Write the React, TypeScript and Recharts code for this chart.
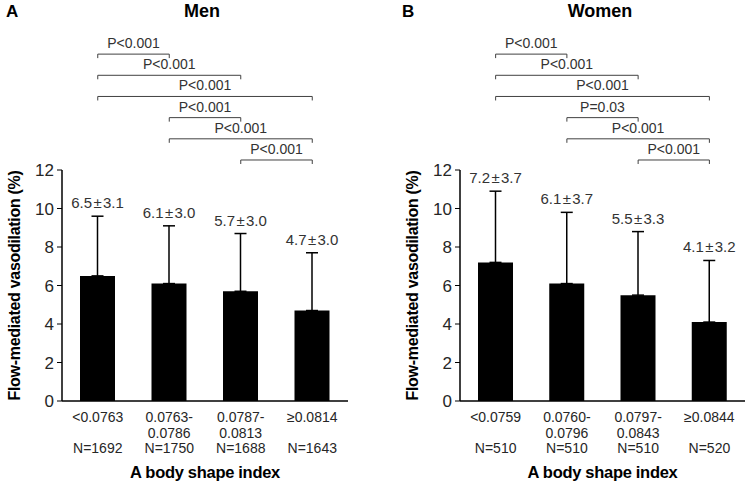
import React from 'react'
import { BarChart, Bar, XAxis, YAxis, ErrorBar, LabelList, ReferenceLine } from 'recharts'

const FONT = '"Liberation Sans", Arial, sans-serif'
const TEXT = '#262626'

// Men
const menGroups = ['<0.0763', '0.0763-\n0.0786', '0.0787-\n0.0813', '≥0.0814']
const menN = [1692, 1750, 1688, 1643]
const menMean = [6.5, 6.1, 5.7, 4.7]
const menSD = [3.1, 3.0, 3.0, 3.0]
const menP = ['P<0.001', 'P<0.001', 'P<0.001', 'P<0.001', 'P<0.001', 'P<0.001']

// Women
const womenGroups = ['<0.0759', '0.0760-\n0.0796', '0.0797-\n0.0843', '≥0.0844']
const womenN = [510, 510, 510, 520]
const womenMean = [7.2, 6.1, 5.5, 4.1]
const womenSD = [3.7, 3.7, 3.3, 3.2]
const womenP = ['P<0.001', 'P<0.001', 'P<0.001', 'P=0.03', 'P<0.001', 'P<0.001']

// comparison pairs, top bracket first
const pairs = [[0, 1], [0, 2], [0, 3], [1, 2], [1, 3], [2, 3]]
const yTicks = [0, 2, 4, 6, 8, 10, 12]

const Bracket = (props: any) => {
  const { x1, y1, x2, text } = props
  return (
    <g>
      <path d={`M${x1},${y1 + 4}V${y1}H${x2}V${y1 + 4}`} stroke="#404040" strokeWidth={1} fill="none" />
      <text x={(x1 + x2) / 2} y={y1 - 6} textAnchor="middle" fontSize={14} fill="#333" fontFamily={FONT}>
        {text}
      </text>
    </g>
  )
}

function Panel({ groups, n, mean, sd, pvals, width, axisWidth, right }: any) {
  const data = groups.map((g: string, i: number) => ({ group: g, mean: mean[i], err: [0, sd[i]] }))

  const GroupTick = ({ x, y, payload }: any) => {
    const i = groups.indexOf(payload.value)
    const lines = payload.value.split('\n')
    return (
      <g fontFamily={FONT} fontSize={14} fill={TEXT} textAnchor="middle">
        {lines.map((l: string, k: number) => (
          <text key={k} x={x} y={y + 21 + k * 16} fill={TEXT}>{l}</text>
        ))}
        <text x={x} y={y + 52} fill={TEXT}>N={n[i]}</text>
      </g>
    )
  }

  const MeanLabel = ({ x, y, width: w, height, index }: any) => {
    const top = y - sd[index] * (height / mean[index])
    return (
      <text x={x + w / 2} y={top - 8} textAnchor="middle" fontSize={15} fill="#333" fontFamily={FONT}>
        {mean[index].toFixed(1)}{'\u200A'}±{'\u200A'}{sd[index].toFixed(1)}
      </text>
    )
  }

  return (
    <BarChart width={width} height={484} data={data} margin={{ top: 170, right, bottom: 0, left: 0 }}>
      <XAxis
        dataKey="group"
        height={83}
        axisLine={{ stroke: '#000', strokeWidth: 1.5 }}
        tickLine={false}
        tickSize={0}
        tickMargin={0}
        interval={0}
        tick={<GroupTick />}
        label={{
          content: ({ viewBox }: any) => (
            <text x={viewBox.x + viewBox.width / 2} y={viewBox.y + 77} textAnchor="middle" fontSize={16.5} fontWeight="bold" letterSpacing={-0.3} fill="#000" fontFamily={FONT}>
              A body shape index
            </text>
          ),
        }}
      />
      <YAxis
        width={axisWidth}
        domain={[0, 12]}
        ticks={yTicks}
        interval={0}
        axisLine={{ stroke: '#000', strokeWidth: 1.5 }}
        tickLine={{ stroke: '#000' }}
        tickSize={5}
        tickMargin={3}
        tick={{ fontSize: 17, fill: TEXT, fontFamily: FONT }}
        label={{
          content: ({ viewBox }: any) => {
            const cx = viewBox.x + axisWidth - 48
            const cy = viewBox.y + viewBox.height / 2
            return (
              <text x={cx} y={cy} transform={`rotate(-90 ${cx} ${cy})`} textAnchor="middle" dominantBaseline="central" fontSize={16} fontWeight="bold" letterSpacing={-0.3} fill="#000" fontFamily={FONT}>
                Flow-mediated vasodilation (%)
              </text>
            )
          },
        }}
      />
      <Bar dataKey="mean" fill="#000" barSize={35} isAnimationActive={false}>
        <ErrorBar dataKey="err" direction="y" width={6} stroke="#000" strokeWidth={1.5} />
        <LabelList dataKey="mean" content={<MeanLabel />} />
      </Bar>
      {pairs.map(([a, b], i) => (
        <ReferenceLine
          key={i}
          ifOverflow="visible"
          segment={[
            { x: groups[a], y: 12.52 + (5 - i) * 1.1 },
            { x: groups[b], y: 12.52 + (5 - i) * 1.1 },
          ]}
          shape={(p: any) => <Bracket {...p} text={pvals[i]} />}
        />
      ))}
    </BarChart>
  )
}

const heading = (text: string, left: number, top: number, size: number, center = false) => (
  <div
    style={{
      position: 'absolute',
      left,
      top,
      fontFamily: FONT,
      fontWeight: 'bold',
      fontSize: size,
      lineHeight: '18px',
      transform: center ? 'translateX(-50%)' : undefined,
      whiteSpace: 'nowrap',
    }}
  >
    {text}
  </div>
)

export default function App() {
  return (
    <div style={{ position: 'absolute', left: 0, top: 0, width: 749, height: 484, background: '#fff' }}>
      {heading('A', 6, 3, 17)}
      {heading('Men', 202, 2, 18, true)}
      {heading('B', 402, 3, 17)}
      {heading('Women', 600, 2, 18, true)}
      <div style={{ position: 'absolute', left: 0, top: 0 }}>
        <Panel groups={menGroups} n={menN} mean={menMean} sd={menSD} pvals={menP} width={375} axisWidth={62} right={27} />
      </div>
      <div style={{ position: 'absolute', left: 375, top: 0 }}>
        <Panel groups={womenGroups} n={womenN} mean={womenMean} sd={womenSD} pvals={womenP} width={374} axisWidth={85} right={4} />
      </div>
    </div>
  )
}
